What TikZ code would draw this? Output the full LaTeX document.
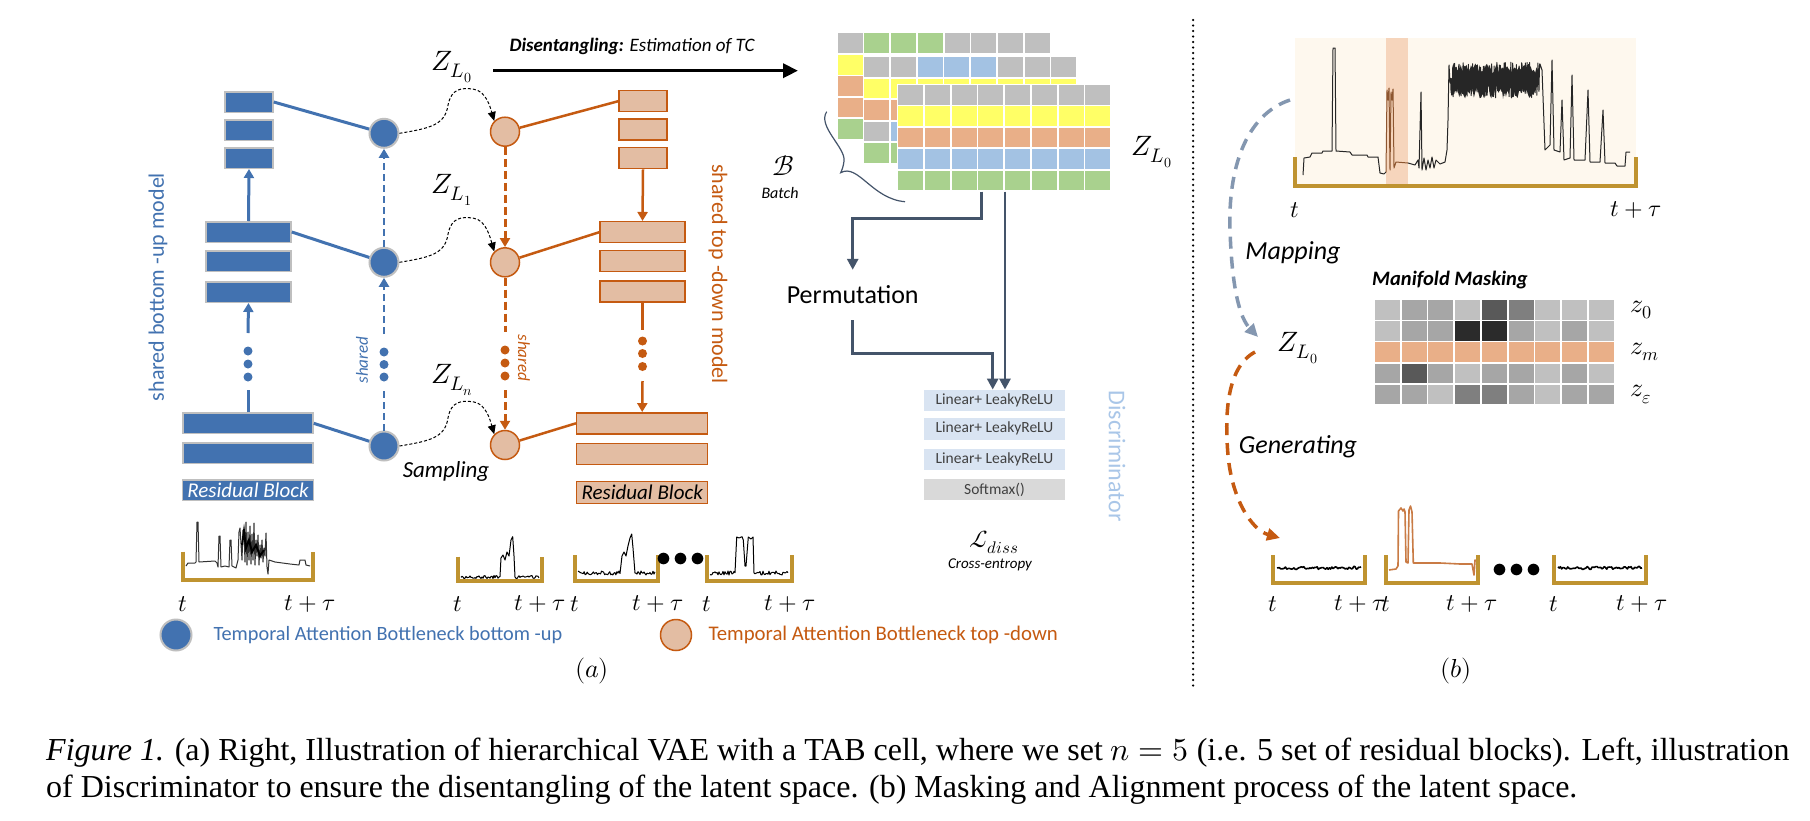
\documentclass[tikz,border=0pt]{standalone}
\usepackage{fontspec}
\usepackage{unicode-math}
\setmainfont{Carlito}
\setmathfont{Latin Modern Math}
\newfontfamily\capfont{Liberation Serif}
\usetikzlibrary{arrows.meta,calc}
\newcommand\fsz[1]{\fontsize{#1}{#1}\selectfont}
\definecolor{bblue}{HTML}{4272B0}
\definecolor{olc}{HTML}{C55A11}
\definecolor{ofill}{HTML}{E3BDA3}
\definecolor{gold}{HTML}{BF9330}
\definecolor{slate}{HTML}{44546A}
\definecolor{cgray}{HTML}{BFBFBF}
\definecolor{cgreen}{HTML}{A9D18E}
\definecolor{cyellow}{HTML}{FFFF66}
\definecolor{corange}{HTML}{E9AF88}
\definecolor{cblue}{HTML}{A3C2E3}
\definecolor{dfill}{HTML}{D9E4F2}
\definecolor{sfill}{HTML}{D9D9D9}
\definecolor{mapc}{HTML}{8497B0}
\definecolor{discc}{HTML}{A9C6E8}
\definecolor{cream}{HTML}{FEF8EE}
\definecolor{band}{HTML}{F6D5BC}
\definecolor{sigo}{HTML}{C97B45}
\definecolor{ga}{HTML}{C0C0C0}
\definecolor{gb}{HTML}{A6A6A6}
\definecolor{gc}{HTML}{7F7F7F}
\definecolor{gd}{HTML}{595959}
\definecolor{ge}{HTML}{2B2B2B}
\tikzset{
  bb/.style={draw=cgray, line width=1.5pt, fill=bblue, inner sep=0pt, minimum height=20.5pt},
  ob/.style={draw=olc, line width=1.5pt, fill=ofill, inner sep=0pt, minimum height=21pt},
  bcirc/.style={circle, draw=cgray, line width=2pt, fill=bblue, minimum size=29pt, inner sep=0pt},
  ocirc/.style={circle, draw=olc, line width=1.5pt, fill=ofill, minimum size=29pt, inner sep=0pt},
  bdot/.style={circle, fill=bblue, minimum size=9pt, inner sep=0pt},
  odot/.style={circle, fill=olc, minimum size=9pt, inner sep=0pt},
  blink/.style={bblue, line width=3pt},
  olink/.style={olc, line width=2.5pt},
  bdash/.style={bblue, line width=2.5pt, dash pattern=on 7pt off 4pt},
  odash/.style={olc, line width=3pt, dash pattern=on 8pt off 4pt},
  tipB/.style={-{Triangle[length=9pt,width=10pt]}},
  slink/.style={slate, line width=2.8pt, -{Triangle[length=11pt,width=11pt]}},
  scurve/.style={black, line width=1pt, dash pattern=on 3pt off 2pt, -{Triangle[length=9pt,width=8pt]}},
  dbox/.style={fill=dfill, minimum width=141pt, minimum height=21.5pt, inner sep=0pt, font=\fsz{15.5}, text=black!75},
  frame/.style={gold, line width=4pt},
  sig/.style={black, line width=1pt, line join=round},
  lab/.style={font=\fsz{24}},
}
\begin{document}
\begin{tikzpicture}[x=1pt,y=-1pt]
\useasboundingbox (0,0) rectangle (1810,820);
\fill[white] (0,0) rectangle (1810,820);
\pgfmathsetseed{7}

% ---------------- bottom-up (blue) ----------------
\node[bb, minimum width=48pt] (bt1) at (249,102) {};
\node[bb, minimum width=48pt] (bt2) at (249,130.3) {};
\node[bb, minimum width=48pt] (bt3) at (249,158) {};
\node[bb, minimum width=85pt] (bm1) at (248.5,232) {};
\node[bb, minimum width=85pt] (bm2) at (248.5,261) {};
\node[bb, minimum width=85pt] (bm3) at (248.5,292) {};
\node[bb, minimum width=130pt] (bl1) at (248,423.3) {};
\node[bb, minimum width=130pt] (bl2) at (248,453) {};
\node[bb, minimum width=131pt, text=white, font=\fsz{21}\itshape] (bres) at (248,490.3) {Residual Block};
\node[bdot] (bd1) at (248,351) {};
\node[bdot] (bd2) at (248,364) {};
\node[bdot] (bd3) at (248,377) {};
\coordinate (bg1) at (248,333);
\coordinate (bg2) at (248,390);
\draw[blink,tipB] (bm1.north) -- (bt3.south);
\draw[blink,tipB] (bg1) -- (bm3.south);
\draw[blink] (bl1.north) -- (bg2);
\node[rotate=90, text=bblue, font=\fsz{22}] (bumodel) at (158,287) {shared bottom -up model};

\node[bcirc] (bc1) at (384,133.3) {};
\node[bcirc] (bc2) at (384,262.3) {};
\node[bcirc] (bc3) at (384,446) {};
\draw[blink] (bt1.east) -- (bc1);
\draw[blink] (bm1.east) -- (bc2);
\draw[blink] (bl1.east) -- (bc3);
\coordinate (bq1) at (384,334);
\coordinate (bq2) at (384,390);
\draw[bdash,tipB] (bc2.north) -- (bc1.south);
\draw[bdash,tipB] (bq1) -- (bc2.south);
\draw[bdash] (bc3.north) -- (bq2);
\node[bdot] (bs1) at (384,352) {};
\node[bdot] (bs2) at (384,364.5) {};
\node[bdot] (bs3) at (384,377) {};
\node[rotate=90, text=bblue, font=\fsz{17}\itshape] (bshared) at (362,360) {shared};

% ---------------- top-down (orange) ----------------
\node[ocirc] (oc1) at (505,131.7) {};
\node[ocirc] (oc2) at (505,262.3) {};
\node[ocirc] (oc3) at (505,445) {};
\node[ob, minimum width=48pt] (ot1) at (643,101.2) {};
\node[ob, minimum width=48pt] (ot2) at (643,129.5) {};
\node[ob, minimum width=48pt] (ot3) at (643,158.2) {};
\node[ob, minimum width=85pt] (om1) at (642.5,232.2) {};
\node[ob, minimum width=85pt] (om2) at (642.5,261.2) {};
\node[ob, minimum width=85pt] (om3) at (642.5,291.5) {};
\node[ob, minimum width=131pt] (ol1) at (642.2,423.3) {};
\node[ob, minimum width=131pt] (ol2) at (642.2,454.2) {};
\node[ob, minimum width=131pt, minimum height=21.6pt, font=\fsz{21}\itshape] (ores) at (642.2,492.5) {Residual Block};
\draw[olink] (oc1) -- (ot1.west);
\draw[olink] (oc2) -- (om1.west);
\draw[olink] (oc3) -- (ol1.west);
\coordinate (og1) at (642.5,330);
\coordinate (og2) at (642.5,381);
\draw[olink,tipB] (ot3.south) -- (om1.north);
\draw[olink] (om3.south) -- (og1);
\draw[olink,tipB] (og2) -- (ol1.north);
\node[odot] (od1) at (642.5,341) {};
\node[odot] (od2) at (642.5,353.5) {};
\node[odot] (od3) at (642.5,366.5) {};
\coordinate (oq1) at (505,332);
\coordinate (oq2) at (505,390);
\draw[odash,tipB] (oc1.south) -- (oc2.north);
\draw[odash] (oc2.south) -- (oq1);
\draw[odash,tipB] (oq2) -- (oc3.north);
\node[odot] (os1) at (505,350) {};
\node[odot] (os2) at (505,363) {};
\node[odot] (os3) at (505,376) {};
\node[rotate=-90, text=olc, font=\fsz{17}\itshape] (oshared) at (524,358) {shared};
\node[rotate=-90, text=olc, font=\fsz{22}] (tdmodel) at (718,274) {shared top -down model};

% sampling curves
\foreach \i in {1,2,3}{
  \draw[scurve] (bc\i.east) .. controls +(30,-5) and +(-3,20) .. ($(bc\i)+(64,-28)$)
     .. controls +(3,-17) and +(-12,-2) .. ($(bc\i)+(90,-44)$)
     .. controls +(12,2) and +(-4,-14) .. (oc\i.north west);
}
\node[font=\fsz{28}] (z0) at (452,67) {$Z_{L_0}$};
\node[font=\fsz{28}] (z1) at (452,190) {$Z_{L_1}$};
\node[font=\fsz{28}] (zn) at (452,380) {$Z_{L_n}$};
\node[font=\fsz{23}\itshape] (samp) at (446,471.7) {Sampling};

% disentangling arrow
\coordinate (dA) at (493,70.7);
\coordinate (dB) at (798,70.7);
\draw[line width=3.5pt, -{Triangle[length=15pt,width=14pt]}] (dA) -- (dB);
\node[anchor=west, font=\fsz{19}] (dis) at (506,46.7) {\bfseries\itshape Disentangling:\mdseries{} Estimation of TC};

% ---------------- batch grid ----------------
% layer 1
\fill[white] (836.7,32.3) rectangle (1051,140);
\foreach \c [count=\j from 0] in {cgray,cgreen,cgreen,cgreen,cgray,cgray,cgray,cgray}
  \fill[\c] (837.7+26.7*\j,33.3) rectangle ++(25,20);
\foreach \c [count=\j from 0] in {cyellow,corange,corange,cgreen}
  \fill[\c] (837.7,55+21.4*\j) rectangle ++(25,19.5);
% layer 2
\fill[white] (862.8,55.8) rectangle (1080,165);
\foreach \c [count=\j from 0] in {cgray,cgray,cblue,cblue,cblue,cgray,cgray,cgray}
  \fill[\c] (864.3+26.7*\j,57.3) rectangle ++(25,20);
\foreach \r/\c in {1/cyellow,2/corange,4/cgreen}
  \foreach \j in {0,...,7}
    \fill[\c] (864.3+26.7*\j,57.3+21.5*\r) rectangle ++(25,19.5);
\fill[cgray] (864.3,121.8) rectangle ++(25,19.5);
\foreach \j in {1,...,7}
  \fill[cblue] (864.3+26.7*\j,121.8) rectangle ++(25,19.5);
% layer 3 (front)
\fill[white] (896.8,83.5) rectangle (1112,192);
\foreach \c [count=\r from 0] in {cgray,cyellow,corange,cblue,cgreen}
  \foreach \j in {0,...,7}
    \fill[\c] (898.3+26.7*\j,85+21.45*\r) rectangle ++(25,19.5);
\coordinate (g1) at (981.7,191.5);
\coordinate (g2) at (1005,191.5);
\draw[slate, line width=1.2pt] (826.7,111.7) .. controls (817,126) and (846,148) .. (844,161)
   .. controls (843.5,166) and (842,170) .. (840.7,172.7)
   .. controls (858,163) and (872,199) .. (905,201.7);
\node[font=\fsz{28}] (bcal) at (783.3,166) {$\mathcal{B}$};
\node[font=\fsz{16}\itshape] (batch) at (780,193.3) {Batch};
\node[font=\fsz{28}] (zr) at (1152,152) {$Z_{L_0}$};

% permutation & discriminator
\node[font=\fsz{26}, minimum height=50pt, inner sep=0pt] (perm) at (852.7,295) {Permutation};
\node[dbox] (d1) at (994.5,400.5) {Linear+ LeakyReLU};
\node[dbox] (d2) at (994.5,428.8) {Linear+ LeakyReLU};
\node[dbox] (d3) at (994.5,459.7) {Linear+ LeakyReLU};
\node[dbox, fill=sfill] (d4) at (994.5,489.7) {Softmax()};
\draw[slink] (g1) -- ++(0,26.6) -| (perm.north);
\draw[slink] (perm.south) -- ++(0,33.5) -| ([xshift=-1.8pt]d1.north);
\draw[slink] (g2) -- (g2 |- d1.north);
\node[rotate=-90, text=discc, font=\fsz{24}] (disc) at (1117,456) {Discriminator};
\node[font=\fsz{24}] (ldiss) at (994,542) {$\mathcal{L}_{diss}$};
\node[font=\fsz{15}\itshape] (ce) at (990,565) {Cross-entropy};

% ---------------- bottom signals (a) ----------------
\draw[sig, black!80] (186,566) -- (188,563) -- (195,563) -- (196,562) -- (197,522) -- (198,522) -- (199,562) -- (215,561) -- (217,563) -- (218,567) -- (219,536) -- (220,536) -- (221,567) -- (225,566) -- (229,567) -- (230,540) -- (231,540) -- (232,566) -- (236,568) -- (238,560) -- (239,532) -- (240,528) -- (242,560) -- (243,530) -- (244,532) -- (245,562) -- (246,522) -- (247,565) -- (248,532) -- (249,560) -- (250,526) -- (251,564) -- (252,534) -- (253,560) -- (254,523) -- (255,565) -- (256,540) -- (257,556) -- (258,535) -- (259,565) -- (260,545) -- (261,558) -- (262,540) -- (263,562) -- (264,548) -- (265,556) -- (266,533) -- (267,567) -- (268,574) -- (269,560) -- (275,562) -- (290,564) -- (299,565) -- (300,560) -- (305,560) -- (306,565) -- (310,566);
\draw[black, line width=2pt] (242,545) -- (244,531) -- (246,548) -- (249,540) -- (252,552) -- (256,545) -- (260,556) -- (264,550);
\draw[frame] (183,551.7) -- (183,580) -- (313.3,580) -- (313.3,551.7);

\draw[sig] plot[domain=461:500,samples=40] (\x,{577+1.5*rand}) -- (501,558) -- (503,555) -- (505,560) -- (507,552) -- (509,556) -- (511,540) -- (512.7,536.7) -- (514,556) -- (515,577) -- plot[domain=516:539,samples=24] (\x,{577+1.5*rand});
\draw[frame] (458.3,556.7) -- (458.3,581) -- (541.7,581) -- (541.7,556.7);

\draw[sig] plot[domain=578:620,samples=42] (\x,{573+2*rand}) -- (622,556) -- (624,552) -- (626,556) -- (628,546) -- (630,538) -- (631.7,534) -- (633,548) -- (635,573) -- plot[domain=636:655,samples=20] (\x,{573+2*rand});
\draw[frame] (575,555) -- (575,581.3) -- (658.3,581.3) -- (658.3,555);

\node[font=\fsz{30}] (adots) at (681,560) {$\bullet\!\bullet\!\bullet$};

\draw[sig] plot[domain=710:735,samples=26] (\x,{573+2*rand}) -- (736.7,537) -- (739,538) -- (742,536.7) -- (743.3,540) -- (745,566) -- (746,566) -- (748.3,537) -- (751,539) -- (753,537) -- (754,573) -- plot[domain=755:788,samples=34] (\x,{573+2*rand});
\draw[frame] (706.7,555) -- (706.7,581) -- (791.7,581) -- (791.7,555);

\node[lab] (t1) at (183,604) {$t$};
\node[lab] (t1e) at (310,604) {$t+\tau$};
\node[lab] (t2) at (458,604) {$t$};
\node[lab] (t2e) at (540,604) {$t+\tau$};
\node[lab] (t3) at (575,604) {$t$};
\node[lab] (t3e) at (658,604) {$t+\tau$};
\node[lab] (t4) at (707,604) {$t$};
\node[lab] (t4e) at (790,604) {$t+\tau$};

% legend
\node[circle, fill=bblue, draw=cgray, line width=2pt, minimum size=31pt, inner sep=0pt] (lb) at (176,635) {};
\node[anchor=west, text=bblue, font=\fsz{20.3}] (lbt) at (210,635) {Temporal Attention Bottleneck bottom -up};
\node[circle, fill=ofill, draw=olc, line width=1.5pt, minimum size=31pt, inner sep=0pt] (lo) at (676,635) {};
\node[anchor=west, text=olc, font=\fsz{20.8}] (lot) at (705,635) {Temporal Attention Bottleneck top -down};
\node[font=\fsz{26}] (pa) at (592,671) {$(a)$};
\node[font=\fsz{26}] (pb) at (1456,671) {$(b)$};

% separator
\coordinate (vt) at (1193,20);
\coordinate (vb) at (1193,690);
\draw[line width=2.5pt, dash pattern=on 0pt off 5.5pt, line cap=round] (vt) -- (vb);

% ---------------- right part (b) ----------------
\fill[cream] (1295,38) rectangle (1636,185);
\fill[band] (1386,38) rectangle (1408,185);
\draw[sig, black!85] (1303,175) -- (1304,158) -- (1310,157) -- (1312,153) -- (1322,153) -- (1323,151) -- (1332,151) -- (1333,48) -- (1335,48) -- (1336,151) -- (1350,152) -- (1352,155) -- (1367,155) -- (1368,157) -- (1378,157) -- (1380,173) -- (1384,174) -- (1386,172);
\draw[sig, sigo!70!black] (1386,172) -- (1387,90) -- (1388,100) -- (1389,88) -- (1390,170) -- (1391,92) -- (1392,100) -- (1393,89) -- (1394,168) -- (1396,162) -- (1408,163);
\draw[sig, black!85] (1408,163) -- (1415,165) -- (1418,160) -- (1419,168) -- (1421,92) -- (1422,170) -- (1424,158) -- (1426,170) -- (1428,160) -- (1430,168) -- (1432,157) -- (1434,168) -- (1436,160) -- (1440,164) -- (1445,162) -- (1447,150) -- (1448,120) -- (1449,65)
  -- plot[domain=1450:1540,samples=260] (\x,{80+18*rand})
  -- (1542,70) -- (1545,150) -- (1550,145) -- (1552,60) -- (1554,150) -- (1560,152) -- (1562,100) -- (1564,160) -- (1570,158) -- (1572,75) -- (1574,160) -- (1585,160) -- (1588,90) -- (1590,162) -- (1600,162) -- (1603,110) -- (1605,163) -- (1615,163) -- (1617,166) -- (1625,166) -- (1626,152) -- (1630,152);
\fill[black!85] plot[domain=1452:1538,samples=60] (\x,{68+5*rand}) -- plot[domain=1538:1452,samples=60] (\x,{92+7*rand}) -- cycle;
\draw[frame] (1294.5,157) -- (1294.5,185.5) -- (1636,185.5) -- (1636,157);
\node[lab] (tr1) at (1295,210) {$t$};
\node[lab] (tr2) at (1636,210) {$t+\tau$};

\coordinate (ms) at (1290,100);
\coordinate (me) at (1258,337);
\draw[mapc, line width=3.5pt, dash pattern=on 12pt off 8pt, -{Triangle[length=13pt,width=12pt]}] (ms) .. controls (1245,115) and (1228,170) .. (1230,230) .. controls (1232,290) and (1240,318) .. (me);
\node[font=\fsz{26}\itshape] (mapl) at (1293,253) {Mapping};
\node[font=\fsz{28}] (zb) at (1298,348) {$Z_{L_0}$};
\coordinate (gs) at (1255,352);
\coordinate (ge) at (1280,538);
\draw[olc, line width=3.5pt, dash pattern=on 12pt off 8pt, -{Triangle[length=13pt,width=12pt]}] (gs) .. controls (1225,368) and (1225,420) .. (1228,455) .. controls (1232,500) and (1252,530) .. (ge);
\node[font=\fsz{26}\itshape] (genl) at (1298,447) {Generating};

\node[font=\fsz{20.5}\bfseries\itshape] (mm) at (1450,280) {Manifold Masking};
\foreach \c [count=\j from 0] in {ga,gb,gb,ga,gd,gc,ga,ga,ga}
  \fill[\c] (1375+26.7*\j,300) rectangle ++(25,19.5);
\foreach \c [count=\j from 0] in {ga,gb,gb,ge,ge,gb,ga,gb,ga}
  \fill[\c] (1375+26.7*\j,321.2) rectangle ++(25,19.5);
\foreach \j in {0,...,8}
  \fill[corange] (1375+26.7*\j,342.4) rectangle ++(25,19.5);
\foreach \c [count=\j from 0] in {gb,gd,gb,ga,gb,gb,ga,gb,ga}
  \fill[\c] (1375+26.7*\j,363.6) rectangle ++(25,19.5);
\foreach \c [count=\j from 0] in {gb,gb,ga,gc,gc,gb,ga,gb,gb}
  \fill[\c] (1375+26.7*\j,384.8) rectangle ++(25,19.5);
\node[anchor=west, font=\fsz{26}] (zz0) at (1627,309.7) {$z_0$};
\node[anchor=west, font=\fsz{26}] (zzm) at (1627,352) {$z_m$};
\node[anchor=west, font=\fsz{26}] (zze) at (1627,394.5) {$z_{\varepsilon}$};

% bottom signals (b)
\draw[sig, line width=1.6pt] plot[domain=1277:1361,samples=70] (\x,{568+1.5*rand});
\draw[frame] (1273.3,555) -- (1273.3,583) -- (1365,583) -- (1365,555);
\draw[sig, sigo, line width=1.6pt] (1389,570) -- (1396,569) -- (1398,566) -- (1398.5,511) -- (1401,508) -- (1403,511) -- (1404,509) -- (1405,512) -- (1406,562) -- (1408,563) -- (1409,510) -- (1410.5,506) -- (1412,512) -- (1413.3,563) -- (1440,563) -- (1460,564) -- (1472,564) -- (1474,575) -- (1475,560) -- (1478,562);
\draw[frame] (1386,555) -- (1386,583) -- (1478,583) -- (1478,555);
\node[font=\fsz{30}] (bdots) at (1517,571) {$\bullet\!\bullet\!\bullet$};
\draw[sig, line width=1.6pt] plot[domain=1558:1642,samples=70] (\x,{568+1.5*rand});
\draw[frame] (1554,555) -- (1554,583) -- (1646,583) -- (1646,555);
\node[lab] (tb1) at (1273,604) {$t$};
\node[lab] (tb1e) at (1360,604) {$t+\tau$};
\node[lab] (tb2) at (1386,604) {$t$};
\node[lab] (tb2e) at (1472,604) {$t+\tau$};
\node[lab] (tb3) at (1554,604) {$t$};
\node[lab] (tb3e) at (1642,604) {$t+\tau$};

% caption
\node[anchor=base west, font=\capfont\fsz{32}, inner sep=0pt] (cap1) at (46,760) {\itshape Figure 1.\upshape{} (a) Right, Illustration of hierarchical VAE with a TAB cell, where we set $n=5$ (i.e. 5 set of residual blocks). Left, illustration};
\node[anchor=base west, font=\capfont\fsz{32}, inner sep=0pt] (cap2) at (46,797) {of Discriminator to ensure the disentangling of the latent space. (b) Masking and Alignment process of the latent space.};
\end{tikzpicture}
\end{document}
